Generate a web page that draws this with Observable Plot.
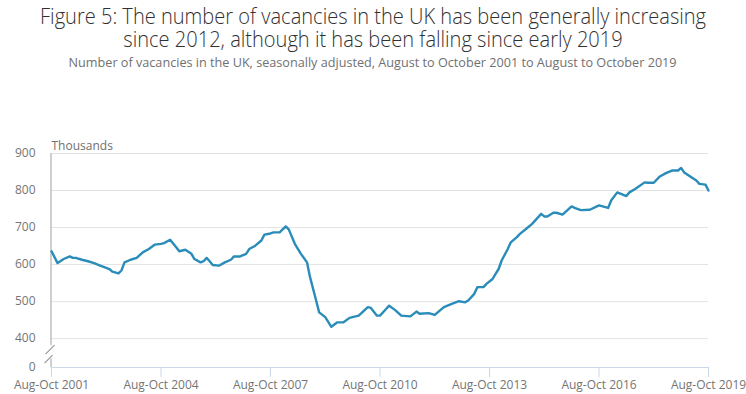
<!DOCTYPE html>
<html>
<head>
<meta charset="utf-8">
<script src="https://cdn.jsdelivr.net/npm/d3@7"></script>
<script src="https://cdn.jsdelivr.net/npm/@observablehq/plot@0.6"></script>
<style>
  body { margin: 0; background: #fff; }
  #wrap { width: 746px; height: 394px; position: relative; overflow: hidden; font-family: "Open Sans", sans-serif; }
  .tl { position: absolute; left: 0; width: 746px; text-align: center; white-space: nowrap; }
  .tl span { display: inline-block; transform-origin: center center; }
  #title { top: 4px; font-size: 21.5px; line-height: 23px; color: #323132; font-weight: 300; }
  #sub { top: 55px; font-size: 12px; line-height: 16px; color: #707071; }
  #chart { position: absolute; top: 80px; left: 0; }
</style>
</head>
<body>
<div id="wrap">
  <div class="tl" id="title"><span data-w="666">Figure 5: The number of vacancies in the UK has been generally increasing<br>since 2012, although it has been falling since early 2019</span></div>
  <div class="tl" id="sub"><span data-w="608">Number of vacancies in the UK, seasonally adjusted, August to October 2001 to August to October 2019</span></div>
  <div id="chart"></div>
</div>
<script>
// months after Aug-Oct 2001 (0 = Aug-Oct 2001, 216 = Aug-Oct 2019)
const monthOffset = [0,2,4,6,7,8,10,12,14,16,18,19,20,22,23,24,26,28,30,32,34,36,37,39,41,42,44,46,47,49,50,51,52,53,55,57,59,60,62,64,65,67,69,70,72,73,75,77,78,80,82,84,85,87,88,90,92,94,96,98,101,104,105,107,108,110,111,113,115,118,120,121,124,126,129,132,134,136,137,139,140,142,143,145,146,147,148,150,151,153,154,156,158,161,162,163,165,166,168,171,172,174,177,180,183,184,186,189,190,192,195,196,198,200,202,204,206,207,208,210,212,213,215,216];
// vacancies, thousands
const vacancies = [636,604,615,622,618,618,613,609,604,597,591,588,581,576,584,606,613,618,633,642,654,656,658,667,647,636,640,629,615,606,609,618,609,599,597,606,613,622,622,629,642,651,665,681,684,687,687,703,695,656,629,606,566,503,471,458,432,444,444,456,462,485,483,462,462,480,489,477,462,460,473,467,469,464,485,495,501,498,503,521,539,539,548,561,575,588,611,642,660,674,683,696,710,737,730,730,740,740,735,757,753,747,748,760,753,773,795,785,795,805,822,821,821,838,847,854,854,861,849,838,827,818,816,800];
const tickMonths = [0,36,72,108,144,180,216];
const tickLabels = ["Aug-Oct 2001","Aug-Oct 2004","Aug-Oct 2007","Aug-Oct 2010","Aug-Oct 2013","Aug-Oct 2016","Aug-Oct 2019"];
const yTicks = [322,400,500,600,700,800,900];   // 322 = broken-axis bottom shown as 0
const yTickLabels = ["0","400","500","600","700","800","900"];
const gridValues = [400,500,600,700,800,900];

const data = monthOffset.map((m, i) => ({m, v: vacancies[i]}));

const chart = Plot.plot({
  width: 746,
  height: 314,
  marginTop: 73,
  marginBottom: 27,
  marginLeft: 51,
  marginRight: 38,
  style: {fontFamily: "'Open Sans', sans-serif", fontSize: "12px", background: "#fff", overflow: "visible"},
  x: {type: "linear", domain: [0, 216]},
  y: {domain: [322, 900]},
  marks: [
    Plot.ruleY(gridValues, {stroke: "#e3e3e3", strokeWidth: 1}),
    Plot.ruleY([322], {stroke: "#cbd8e8", strokeWidth: 1.2}),
    Plot.ruleX([0], {y1: 381, y2: 900, stroke: "#b5b5b5", strokeWidth: 1.3, dx: -0.5}),
    Plot.ruleX([0], {y1: 322, y2: 345, stroke: "#b5b5b5", strokeWidth: 1.3, dx: -0.5}),
    Plot.axisX(tickMonths, {
      tickFormat: d => tickLabels[tickMonths.indexOf(d)],
      tickSize: 10, tickPadding: 3, stroke: "#cbd8e8", fill: "#757575",
      fontSize: 12, label: null
    }),
    Plot.axisY(yTicks, {
      tickFormat: d => yTickLabels[yTicks.indexOf(d)],
      tickSize: 0, tickPadding: 16, fill: "#757575", fontSize: 12, label: null
    }),
    Plot.lineY(data, {x: "m", y: "v", stroke: "#2a8cb8", strokeWidth: 2.4, strokeLinejoin: "round", strokeLinecap: "round"}),
    Plot.text(["Thousands"], {frameAnchor: "top-left", textAnchor: "start", lineAnchor: "bottom", dy: -4, dx: 0, fill: "#707070", fontSize: 12})
  ]
});

document.getElementById("chart").appendChild(chart);

// axis-break marks, positioned from the scales
const xs = chart.scale("x"), ys = chart.scale("y");
const ax = xs.apply(0) - 0.5;
const yb = ys.apply(381);
const svg = d3.select(chart);
[[ax - 5, yb + 9, ax + 4, yb], [ax - 6, yb + 18, ax + 2, yb + 10]].forEach(([x1, y1, x2, y2]) => {
  svg.append("line").attr("x1", x1).attr("y1", y1).attr("x2", x2).attr("y2", y2)
    .attr("stroke", "#9a9a9a").attr("stroke-width", 1.2);
});

// fit title lines to reference widths
document.querySelectorAll(".tl span").forEach(s => {
  const target = +s.dataset.w;
  const w = s.getBoundingClientRect().width;
  if (w > 0) s.style.transform = `scaleX(${target / w})`;
});
</script>
</body>
</html>
